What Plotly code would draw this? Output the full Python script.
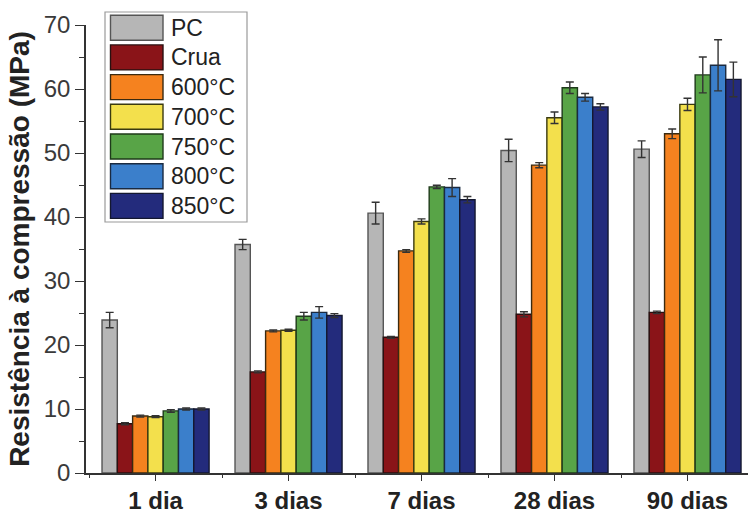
import plotly.graph_objects as go

categories = ["1 dia", "3 dias", "7 dias", "28 dias", "90 dias"]
series_names = ["PC", "Crua", "600°C", "700°C", "750°C", "800°C", "850°C"]
pc = [23.9, 35.7, 40.6, 50.4, 50.6]
crua = [7.7, 15.8, 21.2, 24.8, 25.1]
t600 = [8.9, 22.2, 34.7, 48.1, 53.0]
t700 = [8.8, 22.3, 39.3, 55.5, 57.6]
t750 = [9.7, 24.5, 44.7, 60.2, 62.2]
t800 = [10.0, 25.1, 44.6, 58.7, 63.7]
t850 = [10.0, 24.6, 42.7, 57.2, 61.5]
pc_err = [1.2, 0.8, 1.7, 1.75, 1.3]
crua_err = [0.15, 0.15, 0.15, 0.4, 0.2]
t600_err = [0.15, 0.15, 0.2, 0.4, 0.75]
t700_err = [0.15, 0.15, 0.4, 0.9, 0.95]
t750_err = [0.2, 0.6, 0.25, 0.9, 2.8]
t800_err = [0.15, 0.9, 1.4, 0.6, 4.0]
t850_err = [0.15, 0.3, 0.5, 0.5, 2.7]
y_ticks = [0, 10, 20, 30, 40, 50, 60, 70]

values = [pc, crua, t600, t700, t750, t800, t850]
errors = [pc_err, crua_err, t600_err, t700_err, t750_err, t800_err, t850_err]
colors = ["#b6b6b6", "#8a1418", "#f5821f", "#f3e04c", "#58a447", "#3b7fcb", "#232b7c"]
edge = ["#555555", "#2a1010", "#3a2a10", "#3a3a10", "#1e3a1a", "#1a2a40", "#141830"]

W, H = 748, 515
ML, MR, MT, MB = 86, 0, 25, 42

FONT = "Liberation Sans, Arial, Helvetica, sans-serif"

fig = go.Figure()
xs = list(range(len(categories)))
for name, v, e, c, ec in zip(series_names, values, errors, colors, edge):
    fig.add_trace(go.Bar(
        x=xs, y=v, name=name, showlegend=False,
        marker=dict(color=c, line=dict(color=ec, width=1.4)),
        error_y=dict(type="data", array=e, visible=True, color="#333333",
                     thickness=1.4, width=4),
    ))

# custom legend with large swatches (pixel -> paper helpers)
pw = W - ML - MR
ph = H - MT - MB
def px(x):
    return (x - ML) / pw
def py(y):
    return 1 - (y - MT) / ph

shapes = [dict(type="rect", xref="paper", yref="paper",
               x0=px(105), x1=px(247), y0=py(12), y1=py(222),
               line=dict(color="#9a9a9a", width=1.2), fillcolor="white", layer="above")]
annotations = []
row0, step = 27.7, 29.7
for i, (name, c, ec) in enumerate(zip(series_names, colors, edge)):
    cy = row0 + i * step
    shapes.append(dict(type="rect", xref="paper", yref="paper",
                       x0=px(110.5), x1=px(163), y0=py(cy - 12.5), y1=py(cy + 12.5),
                       line=dict(color=ec, width=1.4), fillcolor=c, layer="above"))
    annotations.append(dict(xref="paper", yref="paper", x=px(169), y=py(cy),
                            text=name, showarrow=False, xanchor="left", yanchor="middle",
                            font=dict(family=FONT, size=23, color="#222222")))

fig.update_layout(
    width=W, height=H,
    margin=dict(l=ML, r=MR, t=MT, b=MB, autoexpand=False),
    paper_bgcolor="white", plot_bgcolor="white",
    barmode="group", bargap=0.195, bargroupgap=0,
    shapes=shapes, annotations=annotations,
    font=dict(family=FONT, color="#222222"),
)
fig.update_xaxes(
    automargin=False,
    range=[-0.523, 4.455], tickmode="array", tickvals=xs, ticktext=categories,
    showgrid=False, zeroline=False, showline=True, linecolor="#333333", linewidth=1.5,
    ticks="outside", ticklen=6, tickwidth=1.4, tickcolor="#333333",
    minor=dict(ticks="outside", tick0=0.5, dtick=1, ticklen=3, tickwidth=1.2, tickcolor="#333333"),
    tickfont=dict(family=FONT, size=24, color="#222222", weight="bold"),
    ticklabelstandoff=-1,
)
fig.update_yaxes(
    automargin=False,
    range=[0, 70], tickmode="array", tickvals=y_ticks,
    showgrid=False, zeroline=False, showline=True, linecolor="#333333", linewidth=1.5,
    ticks="outside", ticklen=9, tickwidth=1.4, tickcolor="#333333",
    minor=dict(ticks="outside", dtick=5, ticklen=5, tickwidth=1.2, tickcolor="#333333"),
    tickfont=dict(family=FONT, size=24, color="#3a3a3a"),
    title=dict(text="Resistência à compressão (MPa)", standoff=6,
               font=dict(family=FONT, size=28, color="#222222", weight="bold")),
)

fig.write_html("out.html")
